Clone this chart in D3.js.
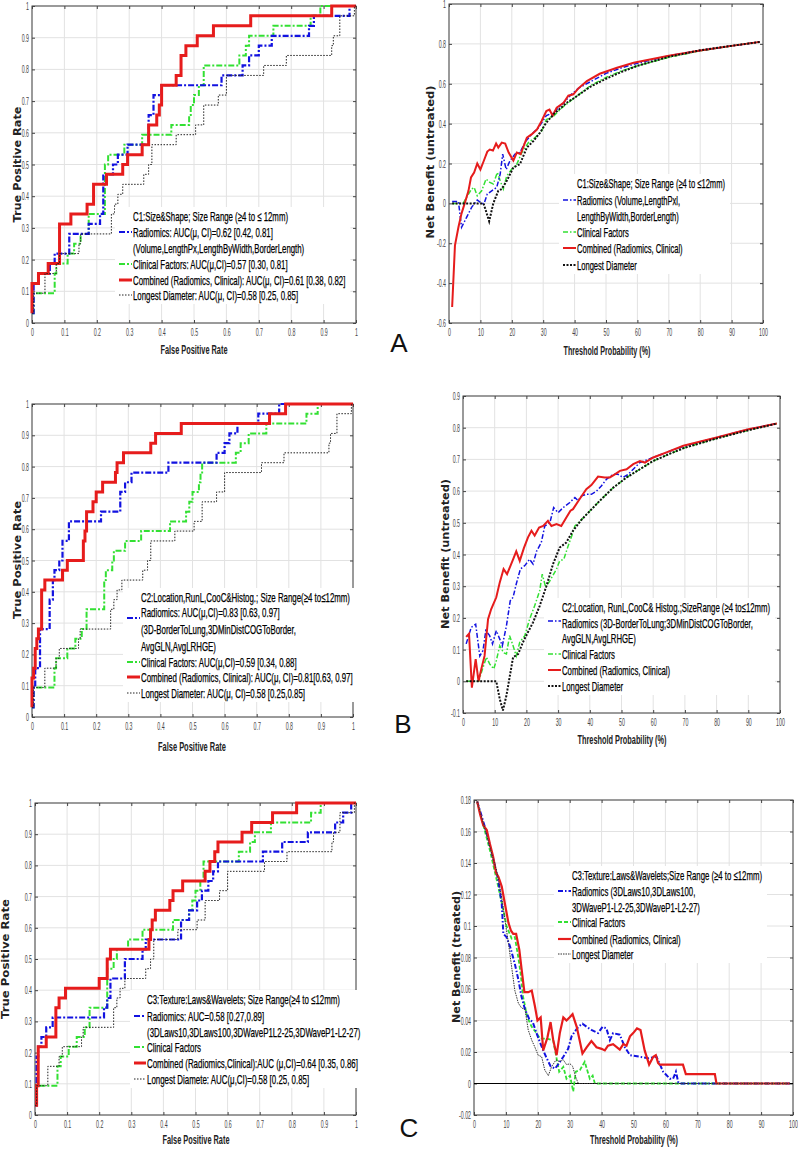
<!DOCTYPE html>
<html>
<head>
<meta charset="utf-8">
<script src="https://cdn.jsdelivr.net/npm/d3@7"></script>
<style>
  body { margin: 0; background: #fff; }
</style>
</head>
<body>
<svg id="fig" width="798" height="1149"></svg>
<script>
// ---------------- tick labels ----------------
var rocTicks = [0, 0.1, 0.2, 0.3, 0.4, 0.5, 0.6, 0.7, 0.8, 0.9, 1]
var thrTicks = [0, 10, 20, 30, 40, 50, 60, 70, 80, 90, 100]
var dcaATicks = [-0.6, -0.4, -0.2, 0, 0.2, 0.4, 0.6, 0.8, 1]
var dcaBTicks = [-0.1, 0, 0.1, 0.2, 0.3, 0.4, 0.5, 0.6, 0.7, 0.8, 0.9]
var dcaCTicks = [-0.02, 0, 0.02, 0.04, 0.06, 0.08, 0.1, 0.12, 0.14, 0.16, 0.18]

// ---------------- ROC curves [FPR, TPR] (step) ----------------
var rocA_rad = [[0,0.031],[0.005,0.125],[0.02,0.156],[0.055,0.1875],[0.07,0.219],[0.115,0.281],[0.175,0.3125],[0.21,0.344],[0.22,0.469],[0.25,0.5],[0.265,0.531],[0.295,0.5625],[0.36,0.656],[0.375,0.719],[0.40,0.75],[0.585,0.781],[0.65,0.8125],[0.67,0.844],[0.70,0.875],[0.74,0.906],[0.855,0.9375],[0.87,0.969],[0.98,1],[1,1]]
var rocA_cli = [[0,0.031],[0.005,0.094],[0.065,0.094],[0.07,0.156],[0.075,0.1875],[0.11,0.219],[0.13,0.25],[0.15,0.281],[0.175,0.344],[0.22,0.344],[0.225,0.5],[0.235,0.531],[0.285,0.5625],[0.34,0.594],[0.43,0.625],[0.485,0.656],[0.49,0.6875],[0.50,0.719],[0.515,0.75],[0.53,0.8125],[0.64,0.844],[0.66,0.875],[0.67,0.906],[0.745,0.9375],[0.86,0.969],[0.89,1],[1,1]]
var rocA_comb = [[0,0.031],[0,0.125],[0.02,0.156],[0.05,0.1875],[0.085,0.3125],[0.12,0.344],[0.17,0.375],[0.19,0.4375],[0.23,0.469],[0.28,0.5],[0.295,0.531],[0.34,0.5625],[0.36,0.625],[0.385,0.656],[0.393,0.6875],[0.40,0.75],[0.445,0.781],[0.46,0.844],[0.475,0.875],[0.51,0.906],[0.56,0.9375],[0.675,0.969],[0.925,1],[1,1]]
// longest diameter is the same model in all three rows
var rocDiam = [[0,0.031],[0.005,0.094],[0.035,0.094],[0.04,0.156],[0.065,0.156],[0.075,0.1875],[0.085,0.219],[0.145,0.25],[0.15,0.281],[0.235,0.281],[0.245,0.344],[0.255,0.375],[0.265,0.406],[0.28,0.4375],[0.345,0.469],[0.36,0.5],[0.37,0.5625],[0.445,0.594],[0.505,0.625],[0.53,0.6875],[0.575,0.719],[0.60,0.781],[0.715,0.8125],[0.785,0.844],[0.925,0.875],[0.93,0.906],[0.95,0.969],[0.995,1],[1,1]]

var rocB_rad = [[0,0.031],[0.005,0.094],[0.01,0.156],[0.025,0.281],[0.055,0.375],[0.065,0.4375],[0.07,0.469],[0.085,0.5],[0.095,0.5625],[0.115,0.625],[0.215,0.656],[0.275,0.719],[0.29,0.75],[0.31,0.781],[0.425,0.8125],[0.575,0.844],[0.60,0.875],[0.615,0.906],[0.64,0.9375],[0.705,0.969],[0.77,1],[1,1]]
var rocB_cli = [[0,0.031],[0.005,0.094],[0.065,0.094],[0.07,0.156],[0.075,0.1875],[0.11,0.219],[0.135,0.25],[0.155,0.281],[0.17,0.344],[0.22,0.344],[0.225,0.4375],[0.23,0.469],[0.25,0.5],[0.255,0.531],[0.29,0.5625],[0.34,0.594],[0.43,0.625],[0.48,0.656],[0.49,0.6875],[0.50,0.719],[0.52,0.75],[0.525,0.781],[0.53,0.8125],[0.635,0.844],[0.65,0.875],[0.675,0.906],[0.73,0.9375],[0.855,0.969],[0.89,1],[1,1]]
var rocB_comb = [[0,0.031],[0,0.125],[0.005,0.156],[0.01,0.219],[0.015,0.25],[0.02,0.281],[0.03,0.406],[0.04,0.4375],[0.095,0.469],[0.11,0.5],[0.16,0.5625],[0.165,0.594],[0.17,0.656],[0.19,0.6875],[0.20,0.719],[0.22,0.75],[0.26,0.781],[0.265,0.8125],[0.285,0.844],[0.37,0.875],[0.385,0.906],[0.465,0.9375],[0.74,0.969],[0.79,1],[1,1]]

var rocC_rad = [[0,0.031],[0.005,0.1875],[0.01,0.219],[0.02,0.25],[0.035,0.281],[0.055,0.3125],[0.215,0.344],[0.225,0.375],[0.235,0.4375],[0.28,0.5],[0.335,0.531],[0.345,0.5625],[0.455,0.625],[0.48,0.656],[0.505,0.6875],[0.52,0.719],[0.54,0.75],[0.555,0.781],[0.57,0.8125],[0.71,0.844],[0.77,0.875],[0.85,0.906],[0.935,0.9375],[0.96,0.969],[0.985,1],[1,1]]
var rocC_cli = [[0,0.031],[0.005,0.094],[0.065,0.094],[0.07,0.156],[0.08,0.1875],[0.105,0.219],[0.13,0.25],[0.155,0.281],[0.17,0.344],[0.215,0.344],[0.225,0.469],[0.245,0.5],[0.255,0.531],[0.29,0.5625],[0.335,0.594],[0.43,0.625],[0.48,0.656],[0.49,0.6875],[0.50,0.719],[0.515,0.75],[0.525,0.8125],[0.635,0.844],[0.67,0.875],[0.685,0.906],[0.735,0.9375],[0.86,0.969],[0.89,1],[1,1]]
var rocC_comb = [[0,0.031],[0.005,0.094],[0.01,0.219],[0.035,0.25],[0.065,0.344],[0.075,0.375],[0.095,0.406],[0.20,0.4375],[0.225,0.5],[0.235,0.531],[0.355,0.5625],[0.36,0.594],[0.365,0.625],[0.375,0.656],[0.42,0.6875],[0.43,0.719],[0.46,0.75],[0.53,0.781],[0.545,0.8125],[0.56,0.844],[0.57,0.875],[0.645,0.906],[0.675,0.9375],[0.74,0.969],[0.815,1],[1,1]]

// ---------------- decision curves [threshold %, net benefit] ----------------
var dcaA_rad = [[1,0.01],[3,0.01],[4,-0.12],[5.6,-0.07],[7.2,-0.02],[9,0.017],[10.4,0],[11.2,0],[12.2,0.047],[13.6,0.063],[15.2,0.08],[16.3,0.147],[17.1,0.247],[18.2,0.17],[19.4,0.213],[21,0.247],[22.6,0.255],[24.5,0.313],[26.4,0.347],[28.5,0.38],[31,0.44],[33.3,0.455],[36.5,0.505],[39,0.547],[41.2,0.577],[45,0.61],[50,0.652],[55,0.68],[60,0.703],[70,0.74],[80,0.767],[90,0.79],[99,0.81]]
var dcaA_cli = [[1,0],[4.5,0],[5.6,0.03],[7.2,0.072],[8,0.08],[9,0.038],[10.4,0.063],[11.8,0.122],[13,0.105],[14.1,0.097],[15.4,0.155],[16.3,0.113],[17.3,0.072],[18.4,0.138],[20,0.172],[21.6,0.197],[23.2,0.255],[25.3,0.305],[27.4,0.33],[29.5,0.363],[31,0.42],[33.3,0.438],[36,0.48],[40,0.53],[45,0.59],[50,0.632],[55,0.665],[60,0.69],[70,0.733],[80,0.765],[90,0.79],[99,0.81]]
var dcaA_comb = [[1,-0.52],[1.9,-0.21],[3,-0.12],[4,-0.05],[5,0],[6.2,0.063],[7,0.13],[8,0.155],[9,0.2],[10,0.17],[11,0.21],[12.2,0.26],[13,0.27],[14,0.265],[15,0.3],[15.7,0.28],[16.8,0.305],[17.9,0.3],[19,0.255],[20.5,0.215],[21.6,0.255],[22.8,0.247],[24.8,0.33],[26.4,0.347],[28,0.37],[29.5,0.413],[31,0.463],[32,0.47],[33,0.44],[34.3,0.48],[36.5,0.505],[38,0.54],[39.6,0.547],[41.2,0.577],[43.9,0.613],[48,0.65],[53.5,0.68],[58.8,0.705],[70,0.74],[80,0.767],[90,0.79],[99,0.81]]
var dcaA_diam = [[1,0],[11,0],[12.8,-0.09],[14.1,0],[15.7,0.063],[16.8,0.072],[18.4,0.113],[20.5,0.18],[22.6,0.197],[24.8,0.28],[26.9,0.313],[29,0.355],[31,0.405],[33.3,0.447],[37.5,0.505],[40,0.53],[45,0.585],[50,0.625],[55,0.66],[60,0.69],[70,0.735],[80,0.768],[90,0.79],[99,0.81]]

var dcaB_rad = [[1,0.118],[2.6,0.17],[4,0.18],[5.3,0.08],[6.3,0.097],[7.2,0.16],[8.4,0.144],[9.3,0.118],[10.5,0.16],[11.6,0.133],[12.4,0.112],[13.7,0.175],[14.9,0.254],[15.8,0.265],[16.8,0.307],[18.1,0.354],[19.5,0.365],[21,0.385],[22.1,0.37],[23.2,0.41],[24.7,0.438],[25.8,0.49],[27.4,0.5],[28.6,0.548],[30,0.532],[31.6,0.548],[33.7,0.564],[35.3,0.58],[36.3,0.57],[37.4,0.585],[38.9,0.59],[40.5,0.59],[42.1,0.6],[43.7,0.617],[45.3,0.638],[47.4,0.653],[48.9,0.653],[50.5,0.643],[52.1,0.653],[53.7,0.669],[55.8,0.69],[60,0.706],[65,0.725],[70,0.743],[80,0.769],[90,0.795],[99,0.813]]
var dcaB_cli = [[1,0],[5,0],[5.8,0.028],[7.4,0.076],[8.4,0.055],[9.7,0.039],[10.5,0.065],[11.6,0.112],[12.8,0.09],[13.7,0.086],[14.7,0.144],[15.8,0.112],[16.8,0.08],[17.9,0.123],[19.5,0.144],[21,0.196],[22.6,0.238],[24.2,0.286],[25,0.338],[26.1,0.296],[27.4,0.317],[29.5,0.354],[30.5,0.38],[31.8,0.385],[33.2,0.428],[34.7,0.47],[35.3,0.49],[37.4,0.51],[40,0.537],[43.2,0.57],[47.4,0.611],[51.6,0.643],[55.8,0.669],[60,0.695],[65.3,0.718],[70,0.737],[80,0.766],[90,0.792],[99,0.813]]
var dcaB_comb = [[1,0.14],[1.9,0.15],[2.8,-0.02],[4,0.07],[4.9,0],[5.8,0.04],[6.8,0.08],[7.9,0.196],[8.9,0.228],[10.5,0.265],[11.6,0.312],[12.8,0.354],[13.9,0.338],[15.8,0.385],[16.8,0.41],[17.9,0.38],[19.2,0.42],[20.5,0.454],[21.6,0.475],[22.6,0.46],[24,0.485],[25.3,0.49],[26.8,0.506],[27.9,0.49],[29.5,0.496],[31,0.49],[32.6,0.517],[33.9,0.538],[34.7,0.543],[36.8,0.575],[38.9,0.606],[40.5,0.619],[42.6,0.646],[44.7,0.643],[46.3,0.643],[47.9,0.653],[49.5,0.664],[51.6,0.669],[53.7,0.685],[55.8,0.695],[57.4,0.69],[60,0.706],[64.2,0.722],[69.5,0.743],[80,0.769],[90,0.795],[99,0.813]]
var dcaB_diam = [[1,0],[10.5,0],[11.6,-0.056],[12.6,-0.092],[13.7,-0.045],[15.8,0.076],[17.4,0.086],[18.9,0.123],[20.5,0.155],[22.1,0.186],[24.2,0.238],[26.3,0.3],[28.4,0.37],[30.5,0.422],[32.6,0.438],[34.7,0.475],[37.4,0.51],[40,0.537],[43.2,0.57],[47.4,0.611],[51.6,0.643],[55.8,0.669],[60,0.695],[65.3,0.718],[70,0.737],[80,0.766],[90,0.792],[99,0.813]]

var dcaC_rad = [[1,0.179],[4,0.159],[6.6,0.138],[7.6,0.129],[8.7,0.114],[9.2,0.095],[10.2,0.093],[11.3,0.087],[12.8,0.076],[13.9,0.066],[14.9,0.055],[16,0.047],[17.3,0.041],[18.4,0.039],[19.6,0.032],[20.7,0.026],[21.7,0.021],[22.8,0.016],[24,0.011],[25.4,0.0095],[26.7,0.013],[28,0.017],[29.5,0.022],[30.6,0.03],[31.6,0.033],[32.7,0.036],[34,0.038],[35.3,0.036],[36.8,0.034],[38.9,0.032],[40.3,0.036],[41.5,0.035],[42.6,0.0275],[43.6,0.032],[45.7,0.031],[47.3,0.023],[48.9,0.018],[52,0.017],[54.6,0.016],[57.2,0.017],[59.3,0.0075],[61.4,0.003],[62.4,0.003],[63.3,0.0075],[64,0.001],[64.5,0],[99,0]]
var dcaC_cli = [[1,0.179],[5,0.148],[7.6,0.125],[9.2,0.11],[10.2,0.1],[11.8,0.092],[12.8,0.093],[13.9,0.08],[14.6,0.07],[15.4,0.055],[16.7,0.042],[18.1,0.036],[19.6,0.032],[20.7,0.0285],[22.8,0.0285],[24.8,0.0275],[25.7,0.018],[26.7,0.0075],[28,0.0105],[29,0.003],[30.1,0.005],[31.1,-0.005],[31.9,0.0075],[33.2,0.0085],[34.7,0.0138],[36.3,0.003],[37.2,0.005],[37.9,0],[99,0]]
var dcaC_comb = [[1,0.179],[1.9,0.171],[2.9,0.164],[4,0.161],[5,0.152],[6,0.144],[6.9,0.134],[7.7,0.131],[8.7,0.125],[9.7,0.114],[10.8,0.102],[11.6,0.097],[12.3,0.095],[13.2,0.095],[14.2,0.085],[14.9,0.073],[15.8,0.058],[17,0.058],[18.1,0.059],[19.1,0.049],[19.9,0.04],[20.9,0.042],[21.7,0.021],[23,0.029],[24,0.039],[24.8,0.028],[25.9,0.018],[26.9,0.032],[28,0.042],[29,0.04],[30,0.042],[30.9,0.044],[32.2,0.036],[34,0.019],[35.3,0.023],[36.8,0.027],[38.4,0.023],[40,0.022],[41,0.021],[42,0.024],[43.6,0.025],[45.7,0.0215],[46.8,0.025],[47.8,0.024],[48.9,0.03],[49.9,0.032],[51.1,0.035],[52.2,0.034],[53.5,0.021],[54.9,0.012],[56.2,0.017],[57,0.018],[57.7,0.013],[58.2,0.012],[65.5,0.012],[66.4,0.006],[75.5,0.006],[76,0],[99,0]]
var dcaC_diam = [[1,0.179],[7.1,0.135],[8.7,0.118],[9.7,0.104],[10.8,0.089],[11.8,0.074],[12.8,0.059],[13.9,0.051],[14.9,0.048],[16,0.047],[17,0.034],[18.1,0.0275],[19.1,0.023],[20.1,0.018],[21.2,0.017],[22.2,0.0085],[23.3,0.005],[24.3,0.0105],[25.7,0.015],[26.7,0.014],[28,0.015],[29,0.012],[30.1,0.0125],[30.9,0.011],[31.9,0.004],[32.7,0],[99,0]]
var dcaC_ref = [[0,0],[100,0]]

// ---------------- legend texts ----------------
var legA_roc = ["C1:Size&Shape; Size Range (\u22654 to \u2264 12mm)", "Radiomics: AUC(\u03bc, CI)=0.62 [0.42, 0.81]", "(Volume,LengthPx,LengthByWidth,BorderLength)", "Clinical Factors: AUC(\u03bc,CI)=0.57 [0.30, 0.81]", "Combined (Radiomics, Clinical): AUC(\u03bc, CI)=0.61 [0.38, 0.82]", "Longest Diameter: AUC(\u03bc, CI)=0.58 [0.25, 0.85]"]
var legA_dca = ["C1:Size&Shape; Size Range (\u22654 to \u226412mm)", "Radiomics (Volume,LengthPxl,", "LengthByWidth,BorderLength)", "Clinical Factors", "Combined (Radiomics, Clinical)", "Longest Diameter"]
var legB_roc = ["C2:Location,RunL,CooC&Histog.; Size Range(\u22654 to\u226412mm)", "Radiomics: AUC(\u03bc,CI)=0.83 [0.63, 0.97]", "(3D-BorderToLung,3DMinDistCOGToBorder,", "AvgGLN,AvgLRHGE)", "Clinical Factors: AUC(\u03bc,CI)=0.59 [0.34, 0.88]", "Combined (Radiomics, Clinical): AUC(\u03bc, CI)=0.81[0.63, 0.97]", "Longest Diameter: AUC(\u03bc, CI)=0.58 [0.25,0.85]"]
var legB_dca = ["C2:Location, RunL,CooC& Histog.;SizeRange (\u22654 to\u226412mm)", "Radiomics (3D-BorderToLung;3DMinDistCOGToBorder,", "AvgGLN,AvgLRHGE)", "Clinical Factors", "Combined (Radiomics, Clinical)", "Longest Diameter"]
var legC_roc = ["C3:Texture:Laws&Wavelets; Size Range(\u22654 to \u226412mm)", "Radiomics: AUC=0.58 [0.27,0.89]", "(3DLaws10,3DLaws100,3DWaveP1L2-25,3DWaveP1-L2-27)", "Clinical Factors", "Combined (Radiomics,Clinical):AUC (\u03bc,CI)=0.64 [0.35, 0.86]", "Longest Diamete: AUC(\u03bc,CI)=0.58 [0.25, 0.85]"]
var legC_dca = ["C3:Texture:Laws&Wavelets;Size Range (\u22654 to \u226412mm)", "Radiomics (3DLaws10,3DLaws100,", "3DWaveP1-L2-25,3DWaveP1-L2-27)", "Clinical Factors", "Combined (Radiomics, Clinical)", "Longest Diameter"]


var NARROW = "'Liberation Sans Narrow','Arial Narrow','Liberation Sans',Arial,sans-serif"
var BLUE = "#1212e0", GREEN = "#33e033", RED = "#e61c1c"

var rocStyle = {
    rad:  {c: BLUE, w: 2.2, d: "6,2,2,2"},
    cli:  {c: GREEN, w: 2, d: "6,2,2,2"},
    comb: {c: RED, w: 3, d: null},
    diam: {c: "#222", w: 1, d: "1.5,1.5"}
}
var dcaStyle = {
    rad:  {c: BLUE, w: 1.5, d: "5,2,1.5,2"},
    cli:  {c: GREEN, w: 1.5, d: "5,2,1.5,2"},
    comb: {c: RED, w: 2, d: null},
    diam: {c: "#111", w: 2, d: "2,1.5"}
}
var dcaStyleC = {
    rad:  {c: BLUE, w: 2, d: "5,2,1.5,2"},
    cli:  {c: GREEN, w: 1.8, d: "4,2"},
    comb: {c: RED, w: 2.2, d: null},
    diam: {c: "#333", w: 1, d: "1.5,1"}
}

var svg = d3.select("#fig")
svg.append("rect").attr("width", 798).attr("height", 1149).attr("fill", "#fff")

// width of "0.5" in the picture is about 7.3px: squeeze tick labels to that
var probe = svg.append("text").style("font-family", NARROW).style("font-size", "11px").text("0.5")
var kTick = 7.3 / probe.node().getComputedTextLength()
probe.remove()

function fmt(d) { return String(+d.toFixed(2)) }

function applyStyle(sel, s) {
    sel.attr("fill", "none").attr("stroke", s.c).attr("stroke-width", s.w)
    if (s.d) sel.attr("stroke-dasharray", s.d)
}

function squeeze(textSel, k) {
    textSel.each(function() {
        var w = this.getComputedTextLength()
        d3.select(this).attr("textLength", w * k).attr("lengthAdjust", "spacingAndGlyphs")
    })
}

function build_panel(p) {
    var x = d3.scaleLinear().domain(p.xDom).range([p.l, p.r])
    var y = d3.scaleLinear().domain(p.yDom).range([p.b, p.t])
    var g = svg.append("g")

    // grid
    g.append("g").selectAll("line").data(p.xTicks).join("line")
        .attr("x1", d => x(d)).attr("x2", d => x(d)).attr("y1", p.t).attr("y2", p.b)
        .attr("stroke", "#e2e2e2").attr("stroke-width", 1)
    g.append("g").selectAll("line").data(p.yTicks).join("line")
        .attr("y1", d => y(d)).attr("y2", d => y(d)).attr("x1", p.l).attr("x2", p.r)
        .attr("stroke", "#e2e2e2").attr("stroke-width", 1)

    // axes (inward ticks like matlab)
    var xa = g.append("g").attr("transform", "translate(0," + p.b + ")")
        .call(d3.axisBottom(x).tickValues(p.xTicks).tickFormat(fmt).tickSizeInner(-3).tickSizeOuter(0).tickPadding(5))
    var ya = g.append("g").attr("transform", "translate(" + p.l + ",0)")
        .call(d3.axisLeft(y).tickValues(p.yTicks).tickFormat(fmt).tickSizeInner(-3).tickSizeOuter(0).tickPadding(3))
    g.append("g").attr("transform", "translate(0," + p.t + ")")
        .call(d3.axisTop(x).tickValues(p.xTicks).tickFormat("").tickSizeInner(-3).tickSizeOuter(0))
    g.append("g").attr("transform", "translate(" + p.r + ",0)")
        .call(d3.axisRight(y).tickValues(p.yTicks).tickFormat("").tickSizeInner(-3).tickSizeOuter(0))
    g.selectAll(".domain").remove()
    g.selectAll(".tick line").attr("stroke", "#444")
    ;[xa, ya].forEach(a => {
        a.selectAll("text").style("font-family", NARROW).style("font-size", "11px").attr("fill", "#444")
        squeeze(a.selectAll("text"), kTick)
    })

    // frame
    g.append("rect").attr("x", p.l).attr("y", p.t).attr("width", p.r - p.l).attr("height", p.b - p.t)
        .attr("fill", "none").attr("stroke", "#444").attr("stroke-width", 1)

    // curves
    var line = d3.line().x(d => x(d[0])).y(d => y(d[1]))
        .curve(p.step ? d3.curveStepAfter : d3.curveLinear)
    if (p.ref) {
        g.append("path").attr("d", d3.line().x(d => x(d[0])).y(d => y(d[1]))(p.ref))
            .attr("fill", "none").attr("stroke", "#000").attr("stroke-width", 1.2)
    }
    ;["cli", "rad", "comb", "diam"].forEach(k => {
        g.append("path").attr("d", line(p.series[k])).call(applyStyle, p.style[k])
    })

    // axis titles
    g.append("text").attr("x", p.xlab[1]).attr("y", p.xlab[2]).attr("dy", "0.35em")
        .attr("text-anchor", "middle")
        .style("font-family", NARROW).style("font-size", "12.5px").style("font-weight", "bold")
        .attr("fill", "#222").text(p.xlab[0])
        .attr("textLength", p.xlab[3]).attr("lengthAdjust", "spacingAndGlyphs")
    g.append("text")
        .attr("transform", "translate(" + p.ylab[1] + "," + p.ylab[2] + ") rotate(-90)")
        .attr("dy", "0.35em").attr("text-anchor", "middle")
        .style("font-family", "'DejaVu Sans',Verdana,sans-serif").style("font-size", "10.5px").style("font-weight", "bold")
        .attr("fill", "#222").text(p.ylab[0])
        .attr("textLength", p.ylab[3]).attr("lengthAdjust", "spacingAndGlyphs")

    // legend
    var L = p.legend
    var lg = svg.append("g").style("font-family", NARROW).style("font-size", "13px")
    var bg = lg.append("rect").attr("fill", "#fff")
    var texts = L.lines.map((t, i) => lg.append("text").attr("x", L.tx).attr("y", L.rows[i] + 4.5)
        .attr("fill", "#000").attr("stroke", "#000").attr("stroke-width", 0.25).text(t))
    var k = L.titleW / texts[0].node().getComputedTextLength()
    var maxW = 0
    texts.forEach(t => {
        var w = t.node().getComputedTextLength() * k
        t.attr("textLength", w).attr("lengthAdjust", "spacingAndGlyphs")
        maxW = Math.max(maxW, w)
    })
    bg.attr("x", L.sx - 4).attr("y", L.rows[0] - 9)
        .attr("width", L.tx + maxW + 5 - (L.sx - 4))
        .attr("height", L.rows[L.rows.length - 1] - L.rows[0] + 18)
    L.samples.forEach(s => {
        lg.append("line").attr("x1", L.sx).attr("x2", L.tx - 1).attr("y1", s[1]).attr("y2", s[1])
            .call(applyStyle, p.style[s[0]])
    })
}

build_panel({
    l: 32, r: 356, t: 6, b: 323, xDom: [0, 1], yDom: [0, 1], xTicks: rocTicks, yTicks: rocTicks, step: true,
    series: {rad: rocA_rad, cli: rocA_cli, comb: rocA_comb, diam: rocDiam}, style: rocStyle,
    xlab: ["False Positive Rate", 194, 350, 67], ylab: ["True Positive Rate", 17, 164.5, 116],
    legend: {lines: legA_roc, tx: 133, sx: 119, titleW: 155, rows: [216, 232, 248, 264, 280, 295],
        samples: [["rad", 232], ["cli", 264], ["comb", 280], ["diam", 295]]}
})
build_panel({
    l: 449, r: 763, t: 4, b: 323, xDom: [0, 100], yDom: [-0.6, 1], xTicks: thrTicks, yTicks: dcaATicks, step: false,
    series: {rad: dcaA_rad, cli: dcaA_cli, comb: dcaA_comb, diam: dcaA_diam}, style: dcaStyle,
    xlab: ["Threshold Probability (%)", 607, 351, 87], ylab: ["Net Benefit (untreated)", 430, 162, 153],
    legend: {lines: legA_dca, tx: 577, sx: 563, titleW: 148, rows: [183, 200, 216, 232, 248, 265],
        samples: [["rad", 200], ["cli", 232], ["comb", 248], ["diam", 265]]}
})
build_panel({
    l: 32, r: 353, t: 404, b: 717, xDom: [0, 1], yDom: [0, 1], xTicks: rocTicks, yTicks: rocTicks, step: true,
    series: {rad: rocB_rad, cli: rocB_cli, comb: rocB_comb, diam: rocDiam}, style: rocStyle,
    xlab: ["False Positive Rate", 192, 747, 68], ylab: ["True Positive Rate", 17, 560, 118],
    legend: {lines: legB_roc, tx: 141, sx: 127, titleW: 209, rows: [597, 612, 629, 646, 662, 677, 693],
        samples: [["rad", 618], ["cli", 662], ["comb", 677], ["diam", 693]]}
})
build_panel({
    l: 463, r: 780, t: 396, b: 713, xDom: [0, 100], yDom: [-0.1, 0.9], xTicks: thrTicks, yTicks: dcaBTicks, step: false,
    series: {rad: dcaB_rad, cli: dcaB_cli, comb: dcaB_comb, diam: dcaB_diam}, style: dcaStyle,
    xlab: ["Threshold Probability (%)", 622, 740, 89], ylab: ["Net Benefit (untreated)", 445, 554, 150],
    legend: {lines: legB_dca, tx: 562, sx: 548, titleW: 208, rows: [607, 623, 638, 654, 670, 686],
        samples: [["rad", 621], ["cli", 654], ["comb", 670], ["diam", 686]]}
})
build_panel({
    l: 35, r: 356, t: 803, b: 1115, xDom: [0, 1], yDom: [0, 1], xTicks: rocTicks, yTicks: rocTicks, step: true,
    series: {rad: rocC_rad, cli: rocC_cli, comb: rocC_comb, diam: rocDiam}, style: rocStyle,
    xlab: ["False Positive Rate", 196, 1140, 67], ylab: ["True Positive Rate", 5, 959, 120],
    legend: {lines: legC_roc, tx: 147, sx: 134, titleW: 193, rows: [999, 1016, 1032, 1047, 1063, 1079],
        samples: [["rad", 1016], ["cli", 1047], ["comb", 1063], ["diam", 1079]]}
})
build_panel({
    l: 474, r: 793, t: 800, b: 1115, xDom: [0, 100], yDom: [-0.02, 0.18], xTicks: thrTicks, yTicks: dcaCTicks, step: false,
    series: {rad: dcaC_rad, cli: dcaC_cli, comb: dcaC_comb, diam: dcaC_diam}, style: dcaStyleC, ref: dcaC_ref,
    xlab: ["Threshold Probability (%)", 634, 1140, 88], ylab: ["Net Benefit (treated)", 456, 957, 132],
    legend: {lines: legC_dca, tx: 572, sx: 558, titleW: 190, rows: [875, 891, 907, 922, 939, 954],
        samples: [["rad", 891], ["cli", 922], ["comb", 939], ["diam", 954]]}
})

// panel letters
;[["A", 399, 352], ["B", 403, 733], ["C", 409, 1137]].forEach(a => {
    svg.append("text").attr("x", a[1]).attr("y", a[2]).attr("text-anchor", "middle")
        .style("font-family", "'Liberation Sans',Arial,sans-serif").style("font-size", "26px")
        .attr("fill", "#111").text(a[0])
})
</script>
</body>
</html>
